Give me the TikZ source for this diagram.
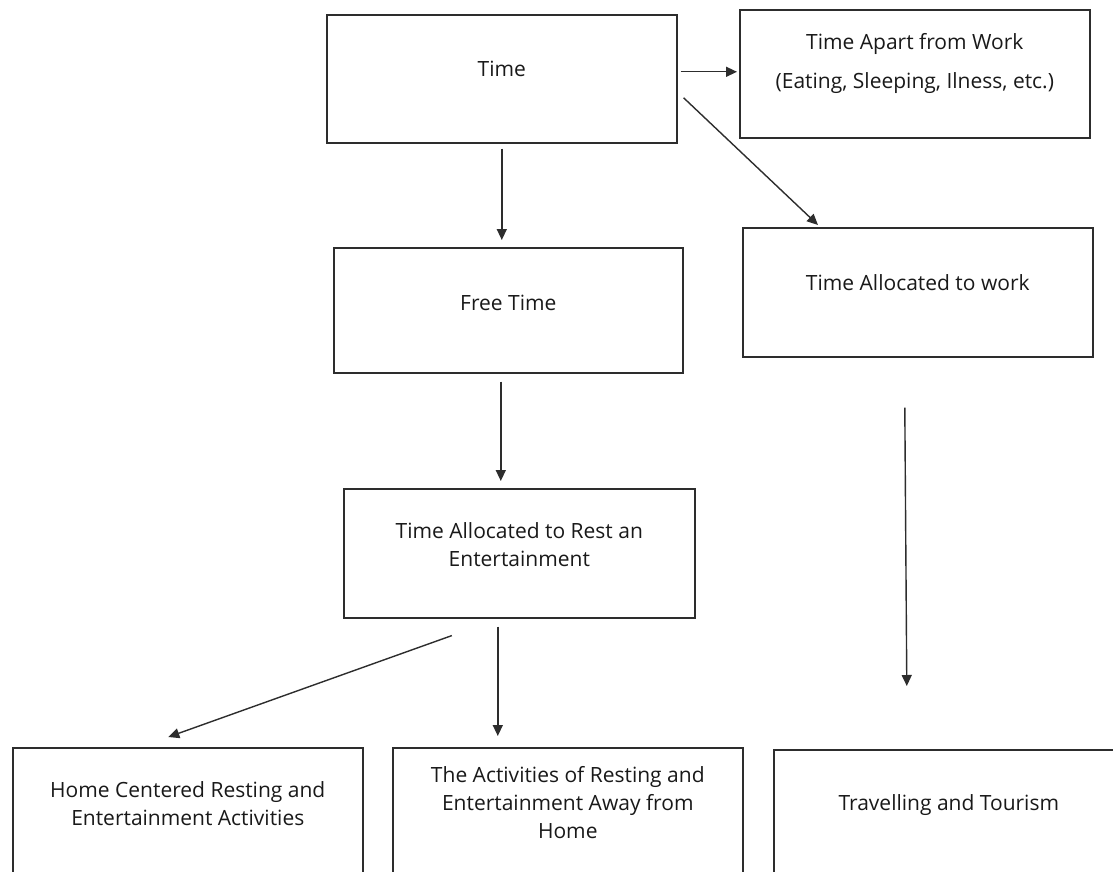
\documentclass[tikz,border=0pt]{standalone}
\usepackage{fontspec}
\setmainfont{Open Sans}
\usepackage{xcolor}
\usepackage{tikz}
\usetikzlibrary{arrows.meta,positioning}
\definecolor{boxgray}{RGB}{45,45,45}
\definecolor{textgray}{RGB}{25,25,25}

\tikzset{
  box/.style={draw=boxgray, line width=1.6pt, anchor=north west,
              minimum width=350pt, minimum height=128pt, inner sep=0pt},
  boxtext/.style={text=textgray, align=center, inner sep=0pt,
                  font=\fontsize{21}{28}\selectfont},
  arrow/.style={draw=boxgray, line width=1.4pt, -{Triangle[length=11pt,width=10pt]}}
}

\begin{document}
\begin{tikzpicture}[x=1pt,y=-1pt]
            \useasboundingbox (0,0) rectangle (1113,872);
            \clip (0,0) rectangle (1113,872);
            \node[box] (time) at (326,14) {};
            \node[box] (apart) at (739,9) {};
            \node[box, minimum width=349pt, minimum height=125pt] (free) at (333,247) {};
            \node[box, minimum height=129pt] (work) at (742,227) {};
            \node[box, minimum width=351pt, minimum height=129pt] (rest) at (343,488) {};
            \node[box] (home) at (12,747) {};
            \node[box] (away) at (392,747) {};
            \node[box] (travel) at (773,749) {};

            \node[boxtext] (timetxt) at ([yshift=-55pt]time.north) {Time};
            \node[boxtext] (aparttxt) at ([yshift=-54pt]apart.north) {
                Time Apart from Work\\[11pt] (Eating, Sleeping, Ilness, etc.)
            };
            \node[boxtext] (freetxt) at ([yshift=-56pt]free.north) {Free Time};
            \node[boxtext] (worktxt) at ([yshift=-56pt]work.north) {Time Allocated to work};
            \node[boxtext] (resttxt) at ([yshift=-57pt]rest.north) {
                Time Allocated to Rest an\\ Entertainment
            };
            \node[boxtext] (hometxt) at ([yshift=-57pt]home.north) {
                Home Centered Resting and\\ Entertainment Activities
            };
            \node[boxtext] (awaytxt) at ([yshift=-56pt]away.north) {
                The Activities of Resting and\\ Entertainment Away from\\ Home
            };
            \node[boxtext] (traveltxt) at ([yshift=-56pt]travel.north) {Travelling and Tourism};

            \draw[arrow] ([xshift=3pt,yshift=7pt]time.east) -- ([xshift=-2pt,yshift=2pt]apart.west);
            \draw[arrow] ([xshift=6pt,yshift=-19pt]time.east) -- ([xshift=76pt,yshift=2pt]work.north west);
            \draw[arrow] ([yshift=-5pt]time.south) -- ([xshift=-6.5pt,yshift=7pt]free.north);
            \draw[arrow] ([xshift=-7.5pt,yshift=-8pt]free.south) -- ([xshift=-18.5pt,yshift=7pt]rest.north);
            \draw[arrow] ([xshift=-67.5pt,yshift=-17pt]rest.south) -- ([xshift=-19.5pt,yshift=10pt]home.north);
            \draw[arrow] ([xshift=-21.5pt,yshift=-8pt]rest.south) -- ([xshift=-70pt,yshift=11pt]away.north);
            \draw[arrow] ([xshift=-13pt,yshift=-50pt]work.south) -- ([xshift=-42pt,yshift=63pt]travel.north);
        \end{tikzpicture}
\end{document}
